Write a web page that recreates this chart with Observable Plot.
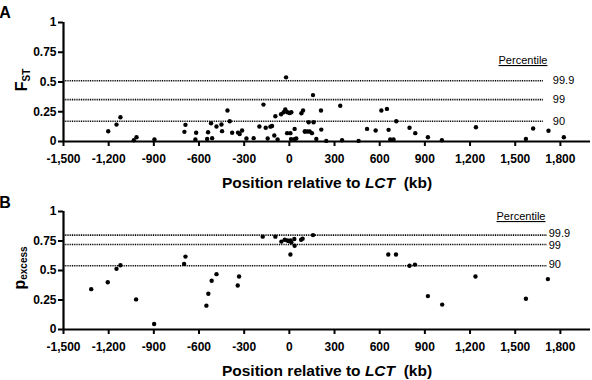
<!DOCTYPE html>
<html><head><meta charset="utf-8">
<script src="https://cdn.jsdelivr.net/npm/d3@7"></script>
<script src="https://cdn.jsdelivr.net/npm/@observablehq/plot@0.6"></script>
<style>
body{margin:0;background:#fff;}
#chart{width:592px;}
svg{display:block;overflow:visible;}
</style>
</head><body><div id="chart"></div>
<script>
const xTicks = [-1500,-1200,-900,-600,-300,0,300,600,900,1200,1500,1800];
const xTickLabels = ["-1,500","-1,200","-900","-600","-300","0","300","600","900","1,200","1,500","1,800"];
const yTicks = [0,0.25,0.5,0.75,1];
const yTickLabels = ["0","0.25","0.5","0.75","1"];
const percentileLabels = ["99.9","99","90"];

const fstPos = [-1203,-1148,-1122,-1033,-1015,-896,-697,-690,-619,-624,-540,-546,-520,-513,-484,-451,-447,-411,-396,-380,-341,-330,-314,-285,-237,-199,-172,-157,-144,-126,-115,-100,-93,-78,-55,-38,-27,-13,2,13,-22,-15,7,35,11,33,46,80,91,102,157,106,121,135,150,128,161,179,210,212,245,338,350,460,516,573,611,648,659,670,692,710,798,836,920,1013,1239,1571,1619,1721,1823];
const fstVal = [0.086,0.142,0.204,0.01,0.036,0.017,0.081,0.14,0.073,0.017,0.078,0.022,0.153,0.028,0.126,0.143,0.087,0.26,0.17,0.073,0.075,0.063,0.092,0.025,0.028,0.126,0.31,0.115,0.025,0.125,0.13,0.05,0.212,0.017,0.229,0.246,0.27,0.246,0.24,0.246,0.539,0.07,0.07,0.106,0.02,0.02,0.025,0.237,0.26,0.084,0.39,0.084,0.084,0.084,0.07,0.162,0.162,0.022,0.26,0.1,0.005,0.30,0.01,0.005,0.106,0.092,0.26,0.274,0.098,0.017,0.017,0.17,0.115,0.07,0.036,0.01,0.12,0.022,0.109,0.09,0.036];

const pexPos = [-1316,-1206,-1148,-1122,-1018,-898,-699,-690,-551,-538,-516,-484,-343,-334,-177,-93,-53,-31,-15,-5,7,13,33,35,7,78,88,157,657,708,798,834,920,1015,1236,1571,1717];
const pexVal = [0.342,0.40,0.514,0.545,0.255,0.047,0.556,0.618,0.202,0.303,0.413,0.469,0.373,0.449,0.787,0.787,0.745,0.761,0.755,0.75,0.755,0.739,0.767,0.71,0.635,0.76,0.77,0.80,0.635,0.635,0.54,0.55,0.283,0.211,0.449,0.261,0.427];

const fstThresholds = [0.511,0.352,0.17];
const pexThresholds = [0.80,0.72,0.54];

const FONT = "'Liberation Sans', Arial, Helvetica, sans-serif";

function panel(o) {
  const pts = o.pos.map((x,i)=>({x, y:o.val[i]}));
  const thr = o.thr.map((y,i)=>({y, label: percentileLabels[i], dy: o.labelDy[i]}));
  const plot = Plot.plot({
    width: 592, height: 190,
    marginTop: o.mt, marginBottom: o.mb, marginLeft: 63, marginRight: 2,
    style: {fontFamily: FONT, background: "#fff", color: "#000", overflow: "visible"},
    x: {domain: [-1500, 2000]},
    y: {domain: [0, 1]},
    marks: [
      Plot.ruleY(thr, {y: "y", x1: -1500, x2: o.lineEnd, stroke: "#000", strokeWidth: 1.6, strokeDasharray: "1,0.8"}),
      thr.map(t => Plot.text([t], {y: "y", x: o.labelX, text: "label", dy: t.dy, textAnchor: "start", fontSize: 11, fill: "#000"})),
      Plot.dot(pts, {x: "x", y: "y", r: 2.2, fill: "#000", stroke: null}),
      Plot.ruleY([0], {x1: -1500, x2: 2000, stroke: "#000", strokeWidth: 2.2}),
      Plot.ruleX([-1500], {y1: 0, y2: 1, stroke: "#000", strokeWidth: 2.2}),
      Plot.axisX({ticks: xTicks, tickFormat: d => xTickLabels[xTicks.indexOf(d)], tickSize: 5, tickPadding: 8, strokeWidth: 2, fontSize: 12, fontWeight: "bold", label: null}),
      Plot.axisY({ticks: yTicks, tickFormat: d => yTickLabels[yTicks.indexOf(d)], tickSize: 5, tickPadding: 2, strokeWidth: 2, fontSize: 12, fontWeight: "bold", label: null})
    ]
  });
  const svg = d3.select(plot);
  // panel letter
  svg.append("text").attr("x", 5).attr("y", o.letterY).attr("font-size", 16).attr("font-weight", "bold")
    .attr("font-family", FONT).text(o.letter);
  // percentile heading
  svg.append("text").attr("x", o.headX).attr("y", o.headY).attr("font-size", 11).attr("font-family", FONT)
    .style("text-decoration", "underline").text("Percentile");
  // x axis title
  const xt = svg.append("text").attr("x", 327).attr("y", o.titleY).attr("text-anchor", "middle")
    .attr("font-size", 15.5).attr("font-weight", "bold").attr("font-family", FONT);
  xt.append("tspan").text("Position relative to ");
  xt.append("tspan").attr("font-style", "italic").text("LCT");
  xt.append("tspan").text("\u00a0\u00a0(kb)");
  // y axis title
  const yt = svg.append("text").attr("transform", `translate(${o.ylx},${o.ylCenter}) rotate(-90)`)
    .attr("text-anchor", "middle").attr("font-weight", "bold").attr("font-family", FONT);
  yt.append("tspan").attr("font-size", o.mainSize).text(o.ylMain);
  yt.append("tspan").attr("font-size", 10).attr("dy", o.subDy).text(o.ylSub);
  return plot;
}

const chart = document.getElementById("chart");
chart.append(panel({pos: fstPos, val: fstVal, thr: fstThresholds, mt: 22, mb: 49, lineEnd: 1690, labelX: 1750, labelDy: [0,0,0],
  letter: "A", letterY: 18, headX: 523, headY: 64, titleY: 188, ylx: 27, ylCenter: 80, ylMain: "F", ylSub: "ST", mainSize: 16, subDy: 3}));
chart.append(panel({pos: pexPos, val: pexVal, thr: pexThresholds, mt: 21, mb: 51, lineEnd: 1715, labelX: 1722, labelDy: [-2,1,-1],
  letter: "B", letterY: 18, headX: 521, headY: 30, titleY: 186, ylx: 25, ylCenter: 78, ylMain: "p", ylSub: "excess", mainSize: 16, subDy: 2}));
</script>
</body></html>
